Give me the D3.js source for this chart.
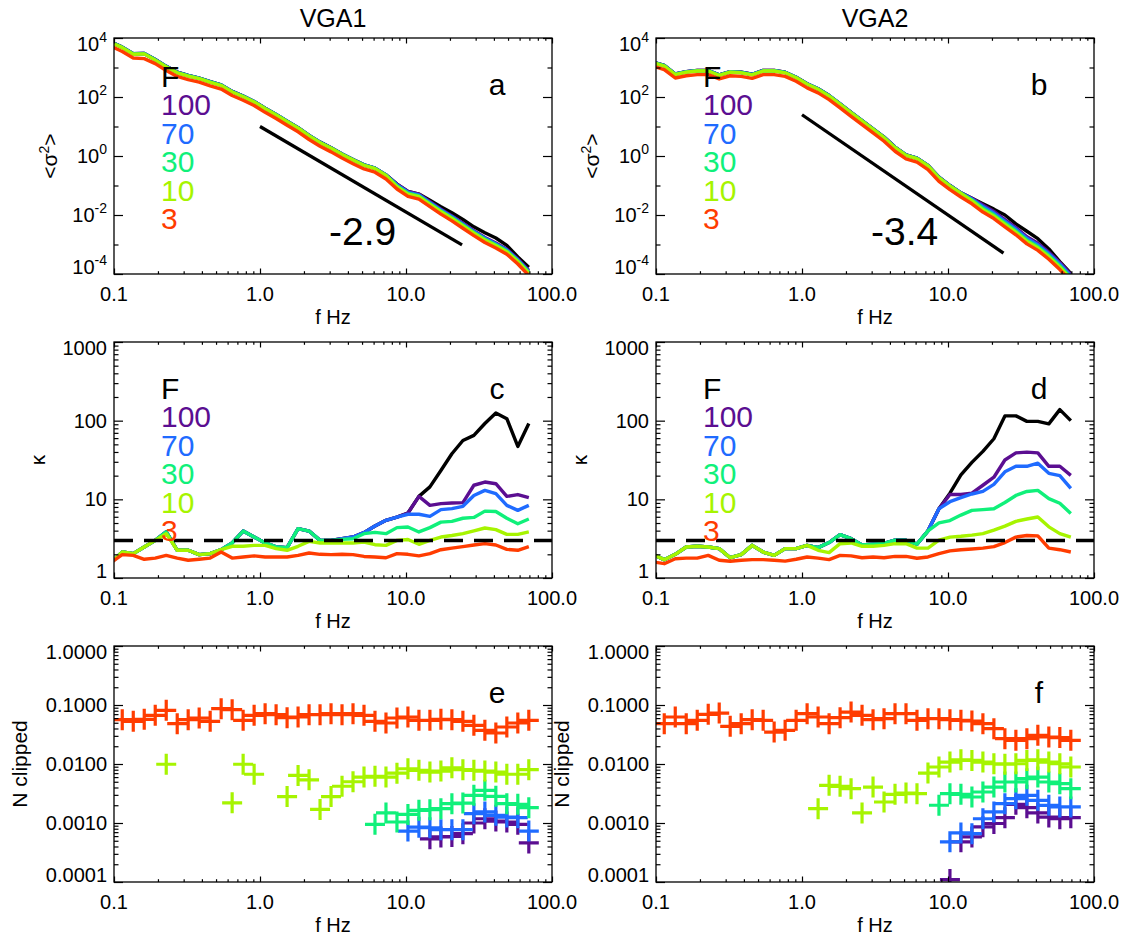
<!DOCTYPE html>
<html>
<head>
<meta charset="utf-8">
<style>
  body { margin: 0; background: #fff; }
  svg { font-family: "Liberation Sans", Arial, Helvetica, sans-serif; }
</style>
</head>
<body>
<svg id="fig" width="1127" height="938"></svg>
<script src="https://cdn.jsdelivr.net/npm/d3@7"></script>
<script>
// frequency bins (quarter octave), Hz
var freq = [0.0958,0.1139,0.1355,0.1611,0.1916,0.2279,0.2710,0.3222,0.3832,0.4557,0.5419,0.6445,0.7664,0.9115,
  1.084,1.289,1.533,1.823,2.168,2.578,3.066,3.646,4.336,5.156,6.131,7.292,8.671,10.31,12.26,14.58,17.34,20.62,
  24.53,29.17,34.69,41.25,49.05,58.33,69.37];

var legendLabels = ["F", "100", "70", "30", "10", "3"];
var colors = ["#000000", "#5b0e91", "#1f6bff", "#10f07a", "#a6f400", "#ff3c00"];

// panel a : <sigma^2>, VGA1
var sigA_F   = [7250,4900,2950,3000,1860,1095,690,537,437,331,257,155,107,70.8,41.7,25.7,15.2,9.12,5.01,2.95,1.91,1.17,0.76,0.50,0.389,0.229,0.112,0.0631,0.0513,0.0316,0.0191,0.012,0.00708,0.00398,0.00251,0.00166,0.000933,0.00038,0.00017];
var sigA_100 = [7250,4900,2950,3000,1860,1095,690,537,437,331,257,155,107,70.8,41.7,25.7,15.2,9.12,5.01,2.95,1.91,1.17,0.76,0.50,0.389,0.229,0.112,0.0631,0.0513,0.0282,0.0158,0.00933,0.00525,0.00295,0.00174,0.00112,0.000692,0.000324,0.000132];
var sigA_70  = [7200,4850,2930,2980,1840,1085,684,531,432,328,254,153,106,70,41.2,25.4,15.0,9.0,4.96,2.92,1.88,1.16,0.75,0.496,0.385,0.227,0.105,0.0589,0.0479,0.0263,0.0148,0.00871,0.0049,0.00275,0.00162,0.00105,0.000646,0.000302,0.000123];
var sigA_30  = [7100,4800,2900,2950,1820,1072,676,525,427,324,251,151,105,69.2,40.7,25.1,14.8,8.91,4.90,2.88,1.86,1.15,0.741,0.490,0.380,0.224,0.0977,0.0550,0.0447,0.0245,0.0138,0.00813,0.00457,0.00257,0.00151,0.000977,0.000603,0.000282,0.000115];
var sigA_10  = [6900,4700,2800,2900,1780,1050,661,513,417,316,245,148,102,67.6,39.8,24.5,14.5,8.71,4.79,2.82,1.82,1.12,0.724,0.479,0.372,0.219,0.0912,0.0513,0.0417,0.0229,0.0129,0.00759,0.00427,0.0024,0.00141,0.000912,0.000562,0.000263,0.000107];
var sigA_3   = [5200,3500,2100,2000,1350,790,500,390,320,240,186,112,77.6,51.3,30.2,18.6,11.0,6.61,3.63,2.14,1.38,0.851,0.550,0.363,0.282,0.166,0.0759,0.0427,0.0347,0.0191,0.0107,0.00631,0.00355,0.00200,0.00117,0.000759,0.000468,0.000219,0.0000891];

// panel b : <sigma^2>, VGA2
var sigB_F   = [1510,1175,603,724,794,794,562,724,692,589,794,794,692,468,282,190,112,58.9,30.2,15.8,8.32,4.37,2.0,1.10,0.851,0.479,0.191,0.10,0.0562,0.0372,0.024,0.0158,0.010,0.00501,0.00282,0.00158,0.000708,0.000263,0.000105];
var sigB_100 = [1510,1175,603,724,794,794,562,724,692,589,794,794,692,468,282,190,112,58.9,30.2,15.8,8.32,4.37,2.0,1.10,0.851,0.479,0.191,0.10,0.0562,0.0372,0.0219,0.0132,0.00692,0.00372,0.00182,0.0011,0.00055,0.000245,0.0000977];
var sigB_70  = [1500,1160,596,716,785,785,556,716,684,582,785,785,684,462,278,188,111,58.2,29.9,15.7,8.22,4.32,1.97,1.08,0.842,0.473,0.188,0.0989,0.0557,0.0347,0.0195,0.0117,0.00617,0.00331,0.00162,0.000977,0.00049,0.000219,0.0000871];
var sigB_30  = [1480,1150,589,708,776,776,550,708,676,575,776,776,676,457,275,186,110,57.5,29.5,15.5,8.13,4.27,1.95,1.07,0.832,0.468,0.186,0.0977,0.055,0.0324,0.017,0.0102,0.00537,0.00288,0.00141,0.000851,0.000427,0.000191,0.0000759];
var sigB_10  = [1450,1120,575,692,759,759,537,692,661,562,759,759,661,447,269,182,107,56.2,28.8,15.1,7.94,4.17,1.91,1.05,0.813,0.457,0.182,0.0955,0.0537,0.0302,0.0151,0.00912,0.00479,0.00257,0.00126,0.000759,0.00038,0.00017,0.0000676];
var sigB_3   = [1100,850,440,525,575,575,410,525,500,430,575,575,500,340,204,138,81.3,42.7,21.9,11.5,6.03,3.16,1.45,0.794,0.617,0.347,0.138,0.0724,0.0407,0.024,0.0126,0.00759,0.00398,0.00214,0.00105,0.000631,0.000316,0.000141,0.0000562];

// panel c : kappa, VGA1
var kapC_F   = [1.58,2.14,2.04,2.48,3.01,3.85,2.25,2.25,1.98,2.04,2.29,2.79,3.95,3.32,2.79,2.48,2.43,4.24,3.95,3.01,3.01,3.16,3.32,3.77,4.58,5.41,5.94,6.7,10.9,14.4,23.3,38,56,65,92,125,106,47,92];
var kapC_100 = [1.58,2.14,2.04,2.48,3.01,3.85,2.25,2.25,1.98,2.04,2.29,2.79,3.95,3.32,2.79,2.48,2.43,4.24,3.95,3.01,3.01,3.16,3.32,3.77,4.58,5.41,5.94,6.7,10.9,8.39,8.81,8.97,9.08,15.1,16.6,15.8,10.9,11.5,10.5];
var kapC_70  = [1.58,2.14,2.04,2.48,3.01,3.85,2.25,2.25,1.98,2.04,2.29,2.79,3.95,3.32,2.79,2.48,2.43,4.24,3.95,3.01,3.01,3.16,3.32,3.77,4.58,5.41,5.94,6.46,6.46,6.08,7.4,7.62,8.15,11.2,13.0,11.8,8.39,7.24,8.39];
var kapC_30  = [1.58,2.14,2.04,2.48,3.01,3.85,2.25,2.25,1.98,2.04,2.29,2.79,3.95,3.32,2.79,2.48,2.43,4.24,3.95,3.01,3.01,3.1,3.16,3.66,3.8,3.66,4.37,4.45,3.85,4.37,5.13,5.25,5.75,5.89,7.08,7.0,5.75,4.9,5.62];
var kapC_10  = [1.58,2.14,2.04,2.48,3.01,3.66,2.25,2.25,1.98,2.04,2.29,2.53,2.53,2.6,2.6,2.36,2.25,2.53,2.92,2.79,2.79,2.79,2.79,2.87,2.65,2.6,3.01,3.09,2.68,3.01,3.32,3.47,3.66,3.98,4.32,4.12,3.59,3.59,3.85];
var kapC_3   = [1.58,1.98,1.94,1.73,1.79,1.94,1.79,1.68,1.73,1.79,2.14,1.79,1.85,1.91,1.85,1.85,1.85,1.94,2.08,2.0,1.98,2.0,1.98,1.88,1.85,1.81,2.04,2.0,1.91,2.04,2.29,2.4,2.51,2.63,2.74,2.63,2.31,2.25,2.51];

// panel d : kappa, VGA2
var kapD_F   = [1.98,1.71,2.0,2.48,2.53,2.48,2.36,1.81,1.98,2.6,2.14,1.94,2.36,2.36,2.6,2.43,2.82,3.55,3.16,2.63,2.69,2.75,3.02,3.02,2.69,3.98,7.59,12.0,20.4,29.5,40.7,58.9,115,115,98,98,91,138,100];
var kapD_100 = [1.98,1.71,2.0,2.48,2.53,2.48,2.36,1.81,1.98,2.6,2.14,1.94,2.36,2.36,2.6,2.43,2.82,3.55,3.16,2.63,2.69,2.75,3.02,3.02,2.69,3.98,7.59,11.5,11.5,12.0,15.1,19.1,31.6,38.9,39.8,38.9,26.3,26.3,20.2];
var kapD_70  = [1.98,1.71,2.0,2.48,2.53,2.48,2.36,1.81,1.98,2.6,2.14,1.94,2.36,2.36,2.6,2.43,2.82,3.55,3.16,2.63,2.69,2.75,3.02,3.02,2.69,3.98,7.59,9.33,10.5,11.7,12.6,15.5,22.4,26.3,26.3,28.8,21.4,20.0,13.8];
var kapD_30  = [1.98,1.71,2.0,2.48,2.53,2.48,2.36,1.81,1.98,2.6,2.14,1.94,2.36,2.36,2.6,2.43,2.82,3.55,3.16,2.63,2.69,2.75,3.02,3.02,2.69,3.98,5.01,5.37,6.31,7.24,7.41,7.59,9.12,11.2,12.6,13.0,10.2,8.91,6.61];
var kapD_10  = [1.98,1.71,2.0,2.48,2.53,2.48,2.36,1.81,1.98,2.6,2.14,1.94,2.36,2.36,2.6,2.25,2.1,2.73,2.79,2.53,2.53,2.6,2.73,2.73,2.4,2.4,3.02,3.31,3.39,3.51,3.67,4.07,4.57,5.25,5.62,5.96,4.47,3.67,3.31];
var kapD_3   = [1.6,1.52,1.76,1.79,1.79,1.94,1.68,1.63,1.68,1.71,1.71,1.68,1.64,1.73,1.85,1.79,1.71,1.94,1.91,1.81,1.85,1.81,1.88,1.88,1.78,1.85,2.04,2.21,2.29,2.34,2.4,2.51,2.82,3.31,3.47,3.43,2.4,2.29,2.14];

// panel e : fraction clipped, VGA1 (null = nothing clipped)
var clipE_100 = [null,null,null,null,null,null,null,null,null,null,null,null,null,null,null,null,null,null,null,null,null,null,null,null,null,null,null,null,null,0.00054,0.00058,0.00059,0.00066,0.0010,0.00118,0.00108,0.00104,0.00095,0.00046];
var clipE_70  = [null,null,null,null,null,null,null,null,null,null,null,null,null,null,null,null,null,null,null,null,null,null,null,null,null,null,null,0.00073,0.00085,0.00083,0.00077,0.00077,0.00077,0.00144,0.00154,0.00135,0.00126,0.00123,0.00073];
var clipE_30  = [null,null,null,null,null,null,null,null,null,null,null,null,null,null,null,null,null,null,null,null,null,null,null,null,0.00095,0.00148,0.00104,0.0014,0.00164,0.00168,0.00175,0.00213,0.00218,0.00294,0.00358,0.00283,0.00213,0.00207,0.00182];
var clipE_10  = [null,null,null,null,null,0.0099,null,null,null,null,null,0.0022,0.0099,0.0067,null,null,0.0028,0.0064,0.0054,0.0017,0.0028,0.0042,0.0050,0.0060,0.0062,0.0060,0.0070,0.0083,0.0078,0.0073,0.0076,0.0086,0.0080,0.0078,0.0076,0.0073,0.0067,0.0067,0.0080];
var clipE_3   = [null,0.0564,0.0529,0.0572,0.0668,0.0813,0.0483,0.0564,0.0602,0.0529,0.0867,0.0834,0.055,0.0668,0.0713,0.0686,0.061,0.0626,0.0686,0.0686,0.0713,0.0686,0.0713,0.0668,0.0529,0.0495,0.0602,0.0626,0.055,0.055,0.0572,0.0564,0.0529,0.0452,0.0372,0.0335,0.0424,0.0495,0.055];

// panel f : fraction clipped, VGA2
var clipF_100 = [null,null,null,null,null,null,null,null,null,null,null,null,null,null,null,null,null,null,null,null,null,null,null,null,null,null,null,0.00011,0.00048,0.00058,0.00086,0.00098,0.00123,0.00207,0.00182,0.00148,0.00126,0.00118,0.00123];
var clipF_70  = [null,null,null,null,null,null,null,null,null,null,null,null,null,null,null,null,null,null,null,null,null,null,null,null,null,null,null,0.00048,0.00068,0.00066,0.00118,0.00154,0.00213,0.00258,0.00294,0.00242,0.00199,0.00187,0.00187];
var clipF_30  = [null,null,null,null,null,null,null,null,null,null,null,null,null,null,null,null,null,null,null,null,null,null,null,null,null,null,0.0020,0.00314,0.00306,0.00276,0.00335,0.00407,0.00495,0.00495,0.00564,0.0060,0.00495,0.00464,0.00382];
var clipF_10  = [null,null,null,null,null,null,null,null,null,null,null,null,null,null,null,0.00175,0.00435,0.00418,0.00382,0.00148,0.00407,0.00227,0.00306,0.00322,0.00314,0.00703,0.0089,0.0108,0.0118,0.0115,0.0108,0.0101,0.0099,0.0101,0.0115,0.0118,0.0108,0.0101,0.0089];
var clipF_3   = [null,0.0483,0.0626,0.0483,0.055,0.0695,0.0731,0.0435,0.0483,0.0564,0.055,0.0348,0.0372,0.055,0.0713,0.0626,0.0483,0.061,0.076,0.0668,0.0564,0.0586,0.0713,0.0713,0.055,0.0586,0.0586,0.0564,0.055,0.0536,0.0483,0.0397,0.0269,0.0252,0.0269,0.0306,0.0287,0.028,0.0252];

// power-law guide lines
var slopeA_f = [1.0, 24.2], slopeA_v = [10, 0.00097];
var slopeB_f = [1.0, 24.0], slopeB_v = [25, 0.000507];
var kappaGauss = 3;

var svg = d3.select("#fig");
var W = 438, H = 236;
var colX = [114, 656];
var rowY = [38, 342, 646];
var titles = ["VGA1", "VGA2"];

var kinds = {
  sig:  { domain: [1e-4, 1e4], major: [1e-4, 1e-2, 1, 1e2, 1e4], minor: [1e-3, 1e-1, 10, 1e3], legendTop: 48.5, ytitleDx: -57 },
  kap:  { domain: [1, 1000], major: [1, 10, 100, 1000], legendTop: 56.5, ytitleDx: -69 },
  clip: { domain: [1e-4, 1], major: [1e-4, 1e-3, 1e-2, 1e-1, 1], ytitleDx: -87 }
};

var panels = [
  { col: 0, row: 0, kind: "sig", letter: "a", series: [sigA_F, sigA_100, sigA_70, sigA_30, sigA_10, sigA_3], slope: [slopeA_f, slopeA_v, "-2.9"] },
  { col: 1, row: 0, kind: "sig", letter: "b", series: [sigB_F, sigB_100, sigB_70, sigB_30, sigB_10, sigB_3], slope: [slopeB_f, slopeB_v, "-3.4"] },
  { col: 0, row: 1, kind: "kap", letter: "c", series: [kapC_F, kapC_100, kapC_70, kapC_30, kapC_10, kapC_3] },
  { col: 1, row: 1, kind: "kap", letter: "d", series: [kapD_F, kapD_100, kapD_70, kapD_30, kapD_10, kapD_3] },
  { col: 0, row: 2, kind: "clip", letter: "e", series: [null, clipE_100, clipE_70, clipE_30, clipE_10, clipE_3] },
  { col: 1, row: 2, kind: "clip", letter: "f", series: [null, clipF_100, clipF_70, clipF_30, clipF_10, clipF_3] }
];

function tickSet(g, axisFn, scale, values, size, tr) {
  g.append("g").attr("transform", tr)
    .call(axisFn(scale).tickValues(values).tickSize(size).tickSizeOuter(0).tickFormat(""))
    .call(function(s) { s.select(".domain").remove(); })
    .selectAll("line").attr("stroke", "#000").attr("stroke-width", 1.2);
}

function yLabel(g, kind, v, ypos) {
  var t = g.append("text").attr("x", -7).attr("y", ypos + 7)
    .attr("text-anchor", "end").attr("font-size", 20);
  if (kind === "sig") {
    var e = Math.round(Math.log10(v));
    t.text("10");
    t.append("tspan").attr("dy", -9).attr("font-size", 14).text(String(e));
  } else if (kind === "kap") {
    t.text(d3.format("d")(v));
  } else {
    t.text(d3.format(".4f")(v));
  }
}

panels.forEach(function(p, idx) {
  var K = kinds[p.kind];
  var x0 = colX[p.col], y0 = rowY[p.row];
  var g = svg.append("g").attr("transform", "translate(" + x0 + "," + y0 + ")");
  var x = d3.scaleLog().domain([0.1, 100]).range([0, W]);
  var y = d3.scaleLog().domain(K.domain).range([H, 0]);

  var cid = "clip" + idx;
  g.append("clipPath").attr("id", cid).append("rect").attr("width", W).attr("height", H);
  var plot = g.append("g").attr("clip-path", "url(#" + cid + ")");

  if (p.kind === "clip") {
    p.series.forEach(function(s, si) {
      if (!s) return;
      var pts = [];
      s.forEach(function(v, i) { if (v != null) pts.push([x(freq[i]), y(v)]); });
      plot.append("path")
        .attr("d", pts.map(function(q) {
          return "M" + (q[0] - 10) + "," + q[1] + "H" + (q[0] + 10) + "M" + q[0] + "," + (q[1] - 10.5) + "V" + (q[1] + 10.5);
        }).join(""))
        .attr("fill", "none").attr("stroke", colors[si]).attr("stroke-width", 3.2);
    });
  } else {
    var line = d3.line()
      .defined(function(d) { return d != null && d > 0; })
      .x(function(d, i) { return x(freq[i]); })
      .y(function(d) { return y(d); });
    p.series.forEach(function(s, si) {
      plot.append("path").datum(s).attr("d", line)
        .attr("fill", "none").attr("stroke", colors[si]).attr("stroke-width", 3.4)
        .attr("stroke-linejoin", "round");
    });
  }

  if (p.kind === "kap") {
    plot.append("line")
      .attr("x1", x(0.1)).attr("x2", x(100))
      .attr("y1", y(kappaGauss)).attr("y2", y(kappaGauss))
      .attr("stroke", "#000").attr("stroke-width", 3.5).attr("stroke-dasharray", "19,11");
  }

  if (p.slope) {
    var sf = p.slope[0], sv = p.slope[1];
    g.append("line")
      .attr("x1", x(sf[0])).attr("y1", y(sv[0]))
      .attr("x2", x(sf[1])).attr("y2", y(sv[1]))
      .attr("stroke", "#000").attr("stroke-width", 3.3);
    g.append("text").attr("x", 215).attr("y", 207)
      .attr("font-size", 39).text(p.slope[2]);
  }

  // frame and ticks on all four sides
  g.append("rect").attr("width", W).attr("height", H)
    .attr("fill", "none").attr("stroke", "#000").attr("stroke-width", 1.3);
  var xMaj = [0.1, 1, 10, 100];
  var xMin = x.ticks().filter(function(v) { return xMaj.every(function(m) { return Math.abs(v / m - 1) > 1e-6; }); });
  tickSet(g, d3.axisBottom, x, xMaj, -5.5, "translate(0," + H + ")");
  tickSet(g, d3.axisBottom, x, xMin, -2.8, "translate(0," + H + ")");
  tickSet(g, d3.axisTop, x, xMaj, -5.5, "translate(0,0)");
  tickSet(g, d3.axisTop, x, xMin, -2.8, "translate(0,0)");
  var yMin = K.minor || y.ticks().filter(function(v) { return K.major.every(function(m) { return Math.abs(v / m - 1) > 1e-6; }); });
  tickSet(g, d3.axisLeft, y, K.major, -9, "translate(0,0)");
  tickSet(g, d3.axisLeft, y, yMin, -4.5, "translate(0,0)");
  tickSet(g, d3.axisRight, y, K.major, -9, "translate(" + W + ",0)");
  tickSet(g, d3.axisRight, y, yMin, -4.5, "translate(" + W + ",0)");

  // tick labels
  xMaj.forEach(function(v) {
    g.append("text").attr("x", x(v)).attr("y", H + 27)
      .attr("text-anchor", "middle").attr("font-size", 20)
      .text(v < 1 ? "0.1" : v.toFixed(1));
  });
  K.major.forEach(function(v, i) {
    var yy = y(v);
    if (i === K.major.length - 1) yy += 6;
    if (i === 0) yy -= 7;
    yLabel(g, p.kind, v, yy);
  });

  // axis titles
  g.append("text").attr("x", W / 2).attr("y", H + 50)
    .attr("text-anchor", "middle").attr("font-size", 20).text("f Hz");
  var yt = g.append("text").attr("transform", "translate(" + K.ytitleDx + "," + (H / 2) + ") rotate(-90)")
    .attr("text-anchor", "middle").attr("font-size", 21);
  if (p.kind === "sig") {
    yt.text("<σ");
    yt.append("tspan").attr("dy", -8).attr("font-size", 14).text("2");
    yt.append("tspan").attr("dy", 8).text(">");
  } else if (p.kind === "kap") {
    yt.text("κ");
  } else {
    yt.text("N clipped");
  }

  if (p.row === 0) {
    g.append("text").attr("x", W / 2).attr("y", -11)
      .attr("text-anchor", "middle").attr("font-size", 25).text(titles[p.col]);
  }

  // panel letter
  g.append("text").attr("x", 383).attr("y", 56.7)
    .attr("text-anchor", "middle").attr("font-size", 30).text(p.letter);

  // legend
  if (K.legendTop) {
    legendLabels.forEach(function(lab, i) {
      g.append("text").attr("x", 47).attr("y", K.legendTop + i * 28.5)
        .attr("font-size", 30).attr("fill", colors[i]).text(lab);
    });
  }
});
</script>
</body>
</html>
